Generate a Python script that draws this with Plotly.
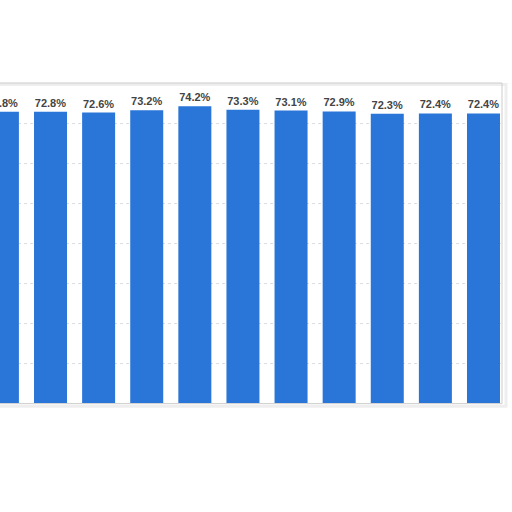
import plotly.graph_objects as go

# bars visible in the crop (first one is cut off at the left edge)
periods = ["P1", "P2", "P3", "P4", "P5", "P6", "P7", "P8", "P9", "P10", "P11"]
shares = [72.8, 72.8, 72.6, 73.2, 74.2, 73.3, 73.1, 72.9, 72.3, 72.4, 72.4]
labels = [f"{v:.1f}%" for v in shares]

bars = go.Bar(
    x=periods,
    y=shares,
    text=labels,
    textposition="outside",
    cliponaxis=False,
    textfont=dict(family="Liberation Sans, Arial, sans-serif", size=11,
                  color="#444444", weight="bold"),
    marker=dict(color="#2a75d8", line=dict(width=0)),
    width=0.686,
)

layout = go.Layout(
    width=512,
    height=512,
    margin=dict(l=0, r=11, t=83, b=109),
    paper_bgcolor="white",
    plot_bgcolor="white",
    showlegend=False,
    xaxis=dict(
        type="category",
        range=[-0.05, 10.364],
        showticklabels=False,
        showgrid=False,
        zeroline=False,
        showline=False,
        ticks="",
    ),
    yaxis=dict(
        range=[0, 80],
        dtick=10,
        showticklabels=False,
        showgrid=True,
        gridcolor="#dedede",
        griddash="dot",
        gridwidth=1,
        zeroline=False,
        showline=False,
        ticks="",
    ),
    shapes=[
        # soft shadow of the card
        dict(type="rect", xref="paper", yref="paper", x0=-0.05, x1=1.01, y0=-0.01, y1=0.995,
             line=dict(color="#eeeeee", width=3), layer="below"),
        # card border
        dict(type="rect", xref="paper", yref="paper", x0=-0.05, x1=1.002, y0=-0.002, y1=1.0,
             line=dict(color="#cccccc", width=1), layer="above"),
    ],
)

fig = go.Figure(data=[bars], layout=layout)
fig.write_html("out.html", config={"displayModeBar": False},
               post_script="document.body.style.margin='0px';")
